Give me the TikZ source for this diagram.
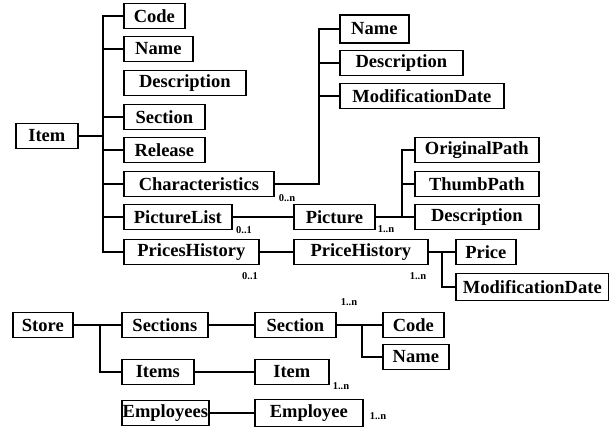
\documentclass[tikz,border=0pt]{standalone}
\usepackage{fontspec}
\setmainfont{Liberation Serif}
\tikzstyle{block} = [draw, rectangle, anchor=west,
    minimum height=25pt, inner sep=2pt, font=\fontsize{18.5}{20}\selectfont\bfseries]
\tikzstyle{mult} = [inner sep=0pt, font=\fontsize{10.5}{12}\selectfont\bfseries]
\tikzstyle{input} = [coordinate]

\begin{document}
\begin{tikzpicture}[x=1pt, y=-1pt, line width=1.7pt]
    \useasboundingbox (0,0) rectangle (609,429);
    % Item tree
    \node [block, minimum width=62pt] (item) at (15,136) {Item};
    \node [input, name=itemjoin] at (103,136) {};
    \node [block, minimum width=61pt] (code) at (123,16) {Code};
    \node [block, minimum width=69pt] (name) at (123,49) {Name};
    \node [block, minimum width=122pt] (descr) at (123,83) {Description};
    \node [block, minimum width=81pt] (section) at (123,117) {Section};
    \node [block, minimum width=81pt] (release) at (123,150) {Release};
    \node [block, minimum width=150pt] (charact) at (123,184) {Characteristics};
    \node [block, minimum width=108pt] (piclist) at (123,217) {PictureList};
    \node [block, minimum width=135pt] (priceshist) at (123,252) {PricesHistory};

    \node [input, name=charjoin] at (319,184) {};
    \node [block, minimum width=69pt, minimum height=28pt] (chname) at (339,29) {Name};
    \node [block, minimum width=123pt] (chdescr) at (339,63) {Description};
    \node [block, minimum width=164pt] (chmoddate) at (339,96) {ModificationDate};

    \node [block, minimum width=81pt] (picture) at (293,217) {Picture};
    \node [input, name=picjoin] at (402,217) {};
    \node [block, minimum width=124pt] (origpath) at (414,150) {OriginalPath};
    \node [block, minimum width=124pt] (thumbpath) at (414,184) {ThumbPath};
    \node [block, minimum width=124pt] (picdescr) at (414,217) {Description};

    \node [block, minimum width=134pt] (pricehist) at (293,252) {PriceHistory};
    \node [input, name=phjoin] at (442,252) {};
    \node [block, minimum width=60pt] (price) at (455,252) {Price};
    \node [block, minimum width=153pt, minimum height=27pt] (phmoddate) at (455,287) {ModificationDate};

    % Store tree
    \node [block, minimum width=60pt] (store) at (12,325) {Store};
    \node [input, name=storejoin] at (100,325) {};
    \node [block, minimum width=86pt] (sections) at (121,325) {Sections};
    \node [block, minimum width=72pt] (items) at (121,372) {Items};
    \node [block, minimum width=87pt, inner xsep=0.5pt] (employees) at (121,413) {Employees};
    \node [block, minimum width=81pt] (sectionn) at (254,325) {Section};
    \node [block, minimum width=74pt] (itemm) at (254,372) {Item};
    \node [block, minimum width=108pt, minimum height=27pt] (employee) at (254,413) {Employee};
    \node [input, name=secjoin] at (362,325) {};
    \node [block, minimum width=61pt] (seccode) at (382,325) {Code};
    \node [block, minimum width=66pt] (secname) at (382,357) {Name};

    % multiplicities
    \node [mult] (m1) at (287,198) {0..n};
    \node [mult] (m2) at (244,230) {0..1};
    \node [mult] (m3) at (250,276) {0..1};
    \node [mult] (m4) at (386,229) {1..n};
    \node [mult] (m5) at (418,276) {1..n};
    \node [mult] (m6) at (349,302) {1..n};
    \node [mult] (m7) at (341,386) {1..n};
    \node [mult] (m8) at (378,416) {1..n};

    \draw (item) -- (itemjoin);
    \draw (itemjoin) |- (code);
    \draw (itemjoin) |- (name);
    \draw (itemjoin) |- (section);
    \draw (itemjoin) |- (release);
    \draw (itemjoin) |- (charact);
    \draw (itemjoin) |- (piclist);
    \draw (itemjoin) |- (priceshist);

    \draw (charact) -- (charjoin) |- (chname);
    \draw (charjoin) |- (chdescr);
    \draw (charjoin) |- (chmoddate);

    \draw (piclist) -- (picture);
    \draw (picture) -- (picjoin) |- (origpath);
    \draw (picjoin) |- (thumbpath);
    \draw (picjoin) -- (picdescr);

    \draw (priceshist) -- (pricehist);
    \draw (pricehist) -- (phjoin) -- (price);
    \draw (phjoin) |- (phmoddate);

    \draw (store) -- (storejoin) -- (sections);
    \draw (storejoin) |- (items);
    \draw (sections) -- (sectionn);
    \draw (items) -- (itemm);
    \draw (employees) -- (employee);
    \draw (sectionn) -- (secjoin) -- (seccode);
    \draw (secjoin) |- (secname);
\end{tikzpicture}
\end{document}
